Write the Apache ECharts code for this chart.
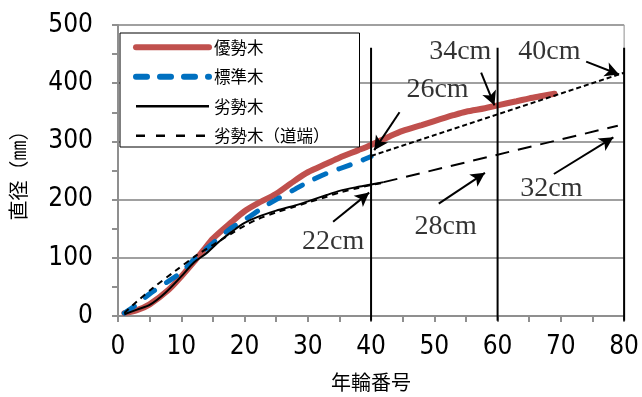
<!DOCTYPE html>
<html><head><meta charset="utf-8">
<script src="https://cdn.jsdelivr.net/npm/echarts@6/dist/echarts.min.js"></script>
<style>html,body{margin:0;padding:0;background:#fff}#c{width:642px;height:397px}</style>
</head><body><div id="c"></div>
<script>
// ---- data ----
const seriesNames = ['優勢木', '標準木', '劣勢木', '劣勢木（道端）'];
const domYears = [1,3,5,8,10,12,13.5,15,18,20,22,25,28,30,33,35,38,40,43,45,48,50,53,55,58,60,63,65,67,69];
const domDiam  = [5,10,20,45,68,93,113,133,162,180,193,210,233,247,262,272,285,294,309,318,328,335,345,351,357,362,369,374,378,382];
const stdYears = [1,3,5,8,10,12,15,18,20,23,25,28,30,33,35,38,40];
const stdDiam  = [5,20,38,60,75,97,125,152,165,187,200,218,230,245,253,265,274];
const supYears = [1,3,5,7.5,10,12,14,16,18,20,22,25,28,30,33,35,38,40,42];
const supDiam  = [3,11,19,40,68,92,108,128,145,160,170,181,190,197,208,215,222,226,230];
const roadYears = [1,3,5.5,9,12.5,15,18,20,22,25,28,30,33,35,38,40,42];
const roadDiam  = [5,25,48,77,105,122,142,155,166,178,188,195,205,212,220,225,229];
const extUpperX = [40, 80];
const extUpperY = [275, 418];
const extLowerX = [42, 79];
const extLowerY = [230, 327];
const vLineX = [40, 60, 80];
const vLineY = [-8, 461];
const annText = ['22cm', '26cm', '28cm', '34cm', '40cm', '32cm'];
const annLabelX = [34.0, 50.5, 51.8, 54.1, 68.2, 68.5];
const annLabelY = [128, 389, 154, 454, 454, 218];
const arrowFromX = [34.0, 44.5, 50.7, 57.4, 74.0, 68.9];
const arrowFromY = [162, 350, 193, 418, 437, 244];
const arrowToX = [39.7, 40.5, 58.0, 59.5, 79.2, 78.3];
const arrowToY = [212, 285, 246, 362, 415, 307];
const xTicks = {min: 0, max: 80, interval: 10};
const yTicks = {min: 0, max: 500, interval: 100};

const pairs = (xs, ys) => xs.map((x, i) => [x, ys[i]]);
const GRAY = '#8f8f8f';
const numFont = '"Liberation Sans Narrow","DejaVu Sans Condensed","Liberation Sans",sans-serif';
const jpFont = '"Noto Sans CJK JP","Noto Sans",sans-serif';
const serif = '"Liberation Serif","DejaVu Serif",serif';

const lineStyles = [
  {color: '#C0504D', width: 6, cap: 'round'},
  {color: '#0070C0', width: 5, type: [12, 14], cap: 'round'},
  {color: '#000', width: 2},
  {color: '#000', width: 2, type: [6, 5]}
];
const legendLineStyles = [
  {color: '#C0504D', width: 6, cap: 'round'},
  {color: '#0070C0', width: 6, type: [11, 13], cap: 'round'},
  {color: '#000', width: 2.5},
  {color: '#000', width: 2.5, type: [9, 11]}
];
const dataSets = [pairs(domYears, domDiam), pairs(stdYears, stdDiam), pairs(supYears, supDiam), pairs(roadYears, roadDiam)];

const series = seriesNames.map((n, i) => ({
  name: n, type: 'line', data: dataSets[i], smooth: 0.3, symbol: 'none',
  lineStyle: lineStyles[i], itemStyle: {color: lineStyles[i].color}, z: 3 + i
}));
series.push(
  {name: 'extU', type: 'line', data: pairs(extUpperX, extUpperY), symbol: 'none', silent: true,
   lineStyle: {color: '#000', width: 2, type: [5, 3]}, z: 5},
  {name: 'extL', type: 'line', data: pairs(extLowerX, extLowerY), symbol: 'none', silent: true,
   lineStyle: {color: '#000', width: 2, type: [14, 9]}, z: 5}
);
vLineX.forEach((x, i) => series.push({
  name: 'v' + i, type: 'line', data: vLineY.map(y => [x, y]), symbol: 'none', clip: false, silent: true,
  lineStyle: {color: '#000', width: 2}, z: 6
}));
series.push({
  name: 'ann', type: 'scatter', symbolSize: 0, silent: true, z: 7,
  data: annText.map((t, i) => [annLabelX[i], annLabelY[i], t]),
  label: {show: true, position: 'inside', formatter: p => p.data[2],
          fontFamily: serif, fontSize: 28, color: '#000'},
  markLine: {
    silent: true, symbol: ['none', 'arrow'], symbolSize: [11, 14], animation: false,
    label: {show: false}, lineStyle: {color: '#000', width: 2, type: 'solid'},
    emphasis: {disabled: true},
    data: arrowFromX.map((x, i) => [{coord: [x, arrowFromY[i]]}, {coord: [arrowToX[i], arrowToY[i]]}])
  }
});

const chart = echarts.init(document.getElementById('c'), null, {renderer: 'canvas'});
chart.setOption({
  animation: false,
  backgroundColor: '#fff',
  grid: {left: 118, right: 14, top: 25, bottom: 79, show: true, borderColor: GRAY, borderWidth: 1, backgroundColor: 'transparent'},
  legend: {
    data: seriesNames.map((n, i) => ({name: n, lineStyle: legendLineStyles[i], itemStyle: {opacity: 0}})),
    orient: 'vertical', left: 120, top: 33,
    itemWidth: 73, itemHeight: 14, itemGap: 13,
    padding: [6, 30, 3, 13], backgroundColor: '#fff', borderColor: '#000', borderWidth: 1,
    itemStyle: {opacity: 0},
    textStyle: {fontFamily: jpFont, fontSize: 16.5, color: '#000'},
    selectedMode: false
  },
  xAxis: {
    type: 'value', min: xTicks.min, max: xTicks.max, interval: xTicks.interval,
    name: '年輪番号', nameLocation: 'middle', nameGap: 56,
    nameTextStyle: {fontFamily: jpFont, fontSize: 20, color: '#000'},
    axisLine: {show: true, onZero: false, lineStyle: {color: GRAY, width: 2}},
    axisTick: {show: true, length: 6, lineStyle: {color: GRAY, width: 2}},
    minorTick: {show: true, splitNumber: 2, length: 6, lineStyle: {color: GRAY, width: 2}},
    splitLine: {show: false},
    axisLabel: {fontFamily: numFont, fontSize: 26, color: '#000', margin: 18}
  },
  yAxis: {
    type: 'value', min: yTicks.min, max: yTicks.max, interval: yTicks.interval,
    name: '直径（㎜）', nameLocation: 'middle', nameGap: 90, nameRotate: 90,
    nameTextStyle: {fontFamily: jpFont, fontSize: 20, color: '#000'},
    axisLine: {show: true, lineStyle: {color: GRAY, width: 2}},
    axisTick: {show: true, length: 6, lineStyle: {color: GRAY, width: 2}},
    minorTick: {show: true, splitNumber: 2, length: 6, lineStyle: {color: GRAY, width: 2}},
    splitLine: {show: true, lineStyle: {color: '#a0a0a0', width: 2}},
    axisLabel: {fontFamily: numFont, fontSize: 26, color: '#000', margin: 25}
  },
  series: series
});
</script></body></html>
